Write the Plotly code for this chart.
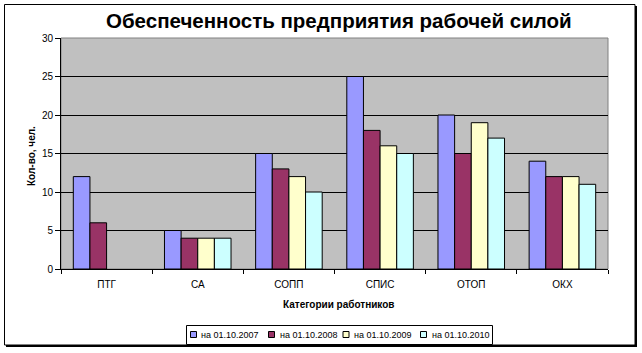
import plotly.graph_objects as go

categories = ["ПТГ", "СА", "СОПП", "СПИС", "ОТОП", "ОКХ"]
series_names = ["на 01.10.2007", "на 01.10.2008", "на 01.10.2009", "на 01.10.2010"]
v2007 = [12, 5, 15, 25, 20, 14]
v2008 = [6, 4, 13, 18, 15, 12]
v2009 = [None, 4, 12, 16, 19, 12]
v2010 = [None, 4, 10, 15, 17, 11]
colors = ["#9999FF", "#993366", "#FFFFCC", "#CCFFFF"]

W, H = 642, 353
L, R, T, B = 61, 608, 38, 269

def px(x):
    return (x - L) / (R - L)

def py(y):
    return (B - y) / (B - T)

FONT = "Arial, Liberation Sans, sans-serif"

fig = go.Figure()
for name, vals, c in zip(series_names, [v2007, v2008, v2009, v2010], colors):
    fig.add_trace(go.Bar(x=categories, y=vals, name=name, showlegend=False,
                         marker=dict(color=c, line=dict(color="black", width=1))))

shapes = [
    dict(type="rect", xref="paper", yref="paper", x0=0, x1=1, y0=0, y1=1,
         line=dict(color="#808080", width=1), layer="below"),
    dict(type="rect", xref="paper", yref="paper",
         x0=px(4.5), x1=px(635), y0=py(345), y1=py(4.5),
         line=dict(color="black", width=1)),
    dict(type="line", xref="paper", yref="paper",
         x0=px(636), x1=px(636), y0=py(346), y1=py(6),
         line=dict(color="black", width=2)),
    dict(type="line", xref="paper", yref="paper",
         x0=px(6), x1=px(637), y0=py(346), y1=py(346),
         line=dict(color="black", width=2)),
    # legend box
    dict(type="rect", xref="paper", yref="paper",
         x0=px(186.5), x1=px(492.5), y0=py(344.5), y1=py(325.5),
         line=dict(color="black", width=1), fillcolor="white"),
]
annotations = [
    dict(text="<b>Обеспеченность предприятия рабочей силой</b>", xref="paper", yref="paper",
         x=px(339), y=py(21), xanchor="center", yanchor="middle", showarrow=False,
         font=dict(size=20.5, family=FONT, color="black")),
    dict(text="<b>Категории работников</b>", xref="paper", yref="paper",
         x=px(339), y=py(304), xanchor="center", yanchor="middle", showarrow=False,
         font=dict(size=10, family=FONT, color="black")),
    dict(text="<b>Кол-во, чел.</b>", xref="paper", yref="paper", textangle=-90,
         x=px(31), y=py(156), xanchor="center", yanchor="middle", showarrow=False,
         font=dict(size=10, family=FONT, color="black")),
]
leg_x = [190.5, 268.5, 343, 420.5]
for name, c, lx in zip(series_names, colors, leg_x):
    shapes.append(dict(type="rect", xref="paper", yref="paper",
                       x0=px(lx), x1=px(lx + 6), y0=py(337.5), y1=py(331.5),
                       line=dict(color="black", width=1), fillcolor=c))
    annotations.append(dict(text=name, xref="paper", yref="paper",
                            x=px(lx + 9), y=py(334.5), xanchor="left", yanchor="middle",
                            showarrow=False, font=dict(size=9, family=FONT, color="black")))

fig.update_layout(
    width=W, height=H,
    margin=dict(l=L, r=W - R, t=T, b=H - B, pad=0),
    paper_bgcolor="white", plot_bgcolor="#C0C0C0",
    barmode="group", bargap=0.27, bargroupgap=0,
    font=dict(family=FONT, size=10, color="black"),
    showlegend=False,
    xaxis=dict(showline=True, linecolor="black", linewidth=1, ticks="outside",
               tickson="boundaries", ticklen=4, tickcolor="black", showgrid=False,
               ticklabelstandoff=6, automargin=False),
    yaxis=dict(range=[0, 30], dtick=5, showline=True, linecolor="black", linewidth=1,
               ticks="outside", ticklen=5, tickcolor="black", showgrid=True,
               gridcolor="black", gridwidth=1, zeroline=False, automargin=False),
    shapes=shapes,
    annotations=annotations,
)

fig.write_html("out.html")
